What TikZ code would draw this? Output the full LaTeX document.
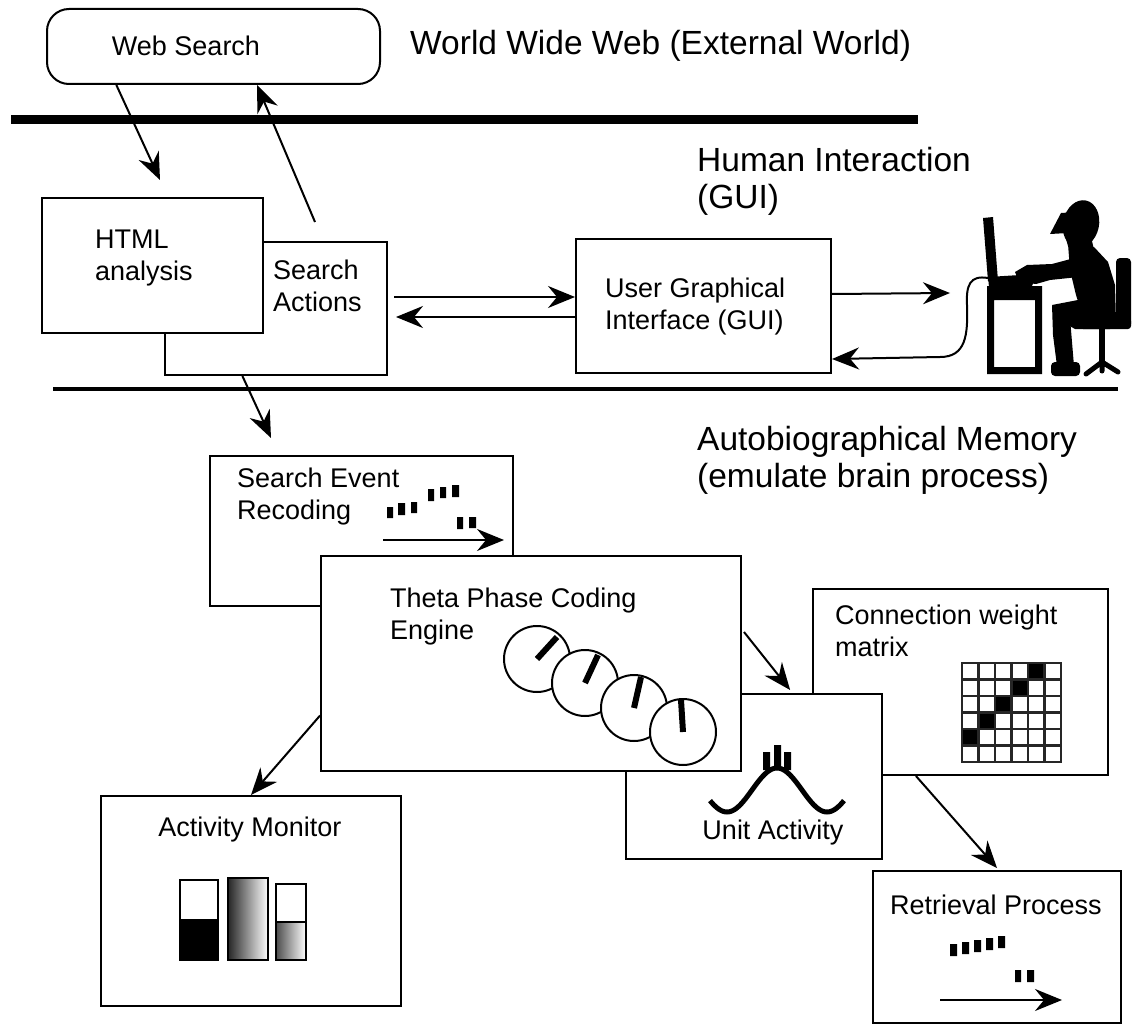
\documentclass[tikz,border=0pt]{standalone}
\usepackage{fontspec}
\setmainfont{Liberation Sans}
\usetikzlibrary{arrows.meta,calc}
\begin{document}
\begin{tikzpicture}[x=1pt,y=-1pt,
  box/.style={draw=black, line width=2pt, fill=white, inner sep=0pt, anchor=north west},
  lbl/.style={font=\fontsize{27}{32}\selectfont, align=left, inner sep=0pt, anchor=west},
  heading/.style={font=\fontsize{33.5}{37}\selectfont, align=left, inner sep=0pt, anchor=west},
  arr/.style={line width=2pt, -{Stealth[length=27pt,width=22pt,inset=9pt]}},
  tick/.style={line width=6pt},
  cell/.style={draw=black!85, line width=2.5pt, fill=white}]
\useasboundingbox (0,0) rectangle (1132,1027);

% ---------- external world ----------
\node[box, rounded corners=22pt, minimum width=333pt, minimum height=75pt] (web) at (46,8) {};
\node[lbl, anchor=center] (webt) at (186,46) {Web Search};
\node[heading] (wwwt) at (410,46) {World Wide Web (External World)};
\draw[line width=9pt] (11,120) -- (918,120);

% ---------- human interaction ----------
\node[heading] (hit) at (697,181) {Human Interaction\\(GUI)};
\node[box, minimum width=222pt, minimum height=133pt] (act) at (164,241) {};
\node[lbl] (actt) at (273,286) {Search\\Actions};
\node[box, minimum width=221pt, minimum height=135pt] (html) at (41,197) {};
\node[lbl] (htmlt) at (95,258) {HTML\\analysis};
\node[box, minimum width=255pt, minimum height=134pt] (gui) at (575,238) {};
\node[lbl] (guit) at (605,307) {User Graphical\\Interface (GUI)};
\draw[line width=4pt] (53,389) -- (1118,389);

% user at the computer
\begin{scope}[fill=black]
  % monitor, keyboard and desk
  \fill (983,218) -- (993,217) -- (998,281) -- (988,281) -- cycle;
  \fill (988,277) -- (1020,275) -- (1034,281) -- (1032,286) -- (989,287) -- cycle;
  \fill[even odd rule] (987,286) rectangle (1042,374) (994,300) rectangle (1035,367);
  % head with cap
  \fill[rotate around={-12:(1081,224)}] (1081,224) ellipse (18 and 24);
  \fill (1050,234) -- (1061,213) -- (1076,212) -- (1068,233) -- cycle;
  \fill (1064,232) -- (1068,246) -- (1080,254) -- (1094,250) -- (1090,232) -- cycle;
  % body
  \fill (1068,244) -- (1094,247) -- (1108,262) -- (1115,285) -- (1116,322) -- (1084,320) -- (1076,295) -- (1070,270) -- cycle;
  \fill (1082,256) -- (1088,276) -- (1050,280) -- (1036,284) -- (1019,282) -- (1015,272) -- (1027,265) -- (1052,264) -- cycle;
  \fill (1052,305) -- (1078,300) -- (1110,312) -- (1110,329) -- (1075,329) -- (1066,324) -- cycle;
  \fill (1052,305) -- (1070,318) -- (1074,366) -- (1057,366) -- (1053,335) -- cycle;
  \fill[rounded corners=4pt] (1051,362) rectangle (1080,376);
  % chair
  \fill[rounded corners=4pt] (1116,258) rectangle (1131,328);
  \fill[rounded corners=3pt] (1080,318) rectangle (1131,329);
  \fill (1099,327) rectangle (1105,363);
\end{scope}
\draw[line width=5pt, line cap=round] (1086,374) -- (1102,362) -- (1118,372) (1102,362) -- (1102,371);

% ---------- connectors, upper part ----------
\coordinate (htmlin) at ($(html.north west)+(119,-17)$);
\coordinate (actout) at ($(act.north west)+(151,-19)$);
\coordinate (sein) at (271,438);
\draw[arr] ($(web.south west)!0.21!(web.south east)$) -- (htmlin);
\draw[arr] (actout) -- ($(web.south west)!0.63!(web.south east)$);
\draw[arr] ($(act.south west)!0.35!(act.south east)$) -- (sein);
\draw[arr] ($(act.east)+(6,-11.5)$) -- ($(gui.west)+(0,-9)$);
\draw[arr] ($(gui.west)+(0,11)$) -- ($(act.east)+(8,8.5)$);
\draw[arr] ($(gui.east)+(0,-12)$) -- (950,293);
\draw[arr] (988,278) .. controls (970,275) and (966,285) .. (967,305)
  .. controls (968,335) and (966,357) .. (940,357) -- ($(gui.south east)+(0,-15)$);

% ---------- autobiographical memory ----------
\node[heading] (amt) at (697,460) {Autobiographical Memory\\(emulate brain process)};

% connection weight matrix
\node[box, minimum width=295pt, minimum height=186pt] (cw) at (812,588) {};
\node[lbl] (cwt) at (835,631) {Connection weight\\matrix};
\foreach \r in {0,...,5}
  \foreach \c in {0,...,5}
    \draw[cell] ({962+16.5*\c},{663+16.5*\r}) rectangle ++(16.5,16.5);
\foreach \r/\c in {0/4,1/3,2/2,3/1,4/0}
  \draw[cell, fill=black] ({962+16.5*\c},{663+16.5*\r}) rectangle ++(16.5,16.5);

% unit activity
\node[box, minimum width=256pt, minimum height=165pt] (ua) at (625,693) {};
\draw[line width=5pt] plot[domain=710:844, samples=80] (\x, {790-22*cos(3.6*(\x-777))});
\fill (763,752) rectangle (770,770) (774,745) rectangle (781,770) (784,752) rectangle (791,770);
\node[lbl, anchor=center] (uat) at (773,833) {Unit Activity};

% search event recoding
\node[box, minimum width=303pt, minimum height=150pt] (se) at (209,455) {};
\node[lbl] (set) at (237,497) {Search Event\\Recoding};
\fill (387,507) rectangle (393,518) (398,503) rectangle (405,515) (411,502) rectangle (417,513)
      (428,489) rectangle (434,501) (440,487) rectangle (446,498) (452,485) rectangle (459,497)
      (457,517) rectangle (463,529) (469,517) rectangle (476,528);
\coordinate (sea) at (383,540);
\draw[arr] (sea) -- ++(121,0);

% theta phase coding engine
\node[box, minimum width=420pt, minimum height=215pt] (th) at (320,555) {};
\node[lbl] (tht) at (390,617) {Theta Phase Coding\\Engine};
\foreach \cx/\cy/\tx/\ty in {537/659/557/637, 585/683/598/655, 634/708/641/677, 683/732/681/700} {
  \draw[line width=2pt, fill=white] (\cx,\cy) circle (33);
  \draw[tick] (\cx,\cy) -- (\tx,\ty);
}

% activity monitor
\node[box, minimum width=300pt, minimum height=210pt] (am) at (100,795) {};
\node[lbl, anchor=center] (amtt) at (250,830) {Activity Monitor};
\draw[line width=2pt, fill=white] (180,880) rectangle (218,960);
\draw[line width=2pt, fill=black] (180,920) rectangle (218,960);
\draw[line width=2pt, left color=black!85, right color=white] (228,878) rectangle (268,960);
\draw[line width=2pt, fill=white] (276,884) rectangle (306,960);
\draw[line width=2pt, left color=black!70, right color=white] (276,922) rectangle (306,960);

% retrieval process
\node[box, minimum width=248pt, minimum height=152pt] (rp) at (872,870) {};
\node[lbl] (rpt) at (890,905) {Retrieval Process};
\fill (950,944) rectangle (957,956) (962,942) rectangle (969,954) (974,940) rectangle (981,952)
      (986,938) rectangle (993,950) (998,936) rectangle (1005,948)
      (1015,970) rectangle (1021,982) (1027,970) rectangle (1034,982);
\coordinate (rpa) at (940,1000);
\draw[arr] (rpa) -- ++(122,0);

% ---------- connectors, lower part ----------
\draw[arr] ($(th.north west)!0.74!(th.south west)$) -- ($(am.north west)!0.5!(am.north east)$);
\draw[arr] ($(th.north east)+(2,77)$) -- ($(ua.north west)!0.64!(ua.north east)+(0,-3)$);
\draw[arr] ($(cw.south west)!0.35!(cw.south east)$) -- ($(rp.north west)!0.5!(rp.north east)+(0,-2)$);
\end{tikzpicture}
\end{document}
